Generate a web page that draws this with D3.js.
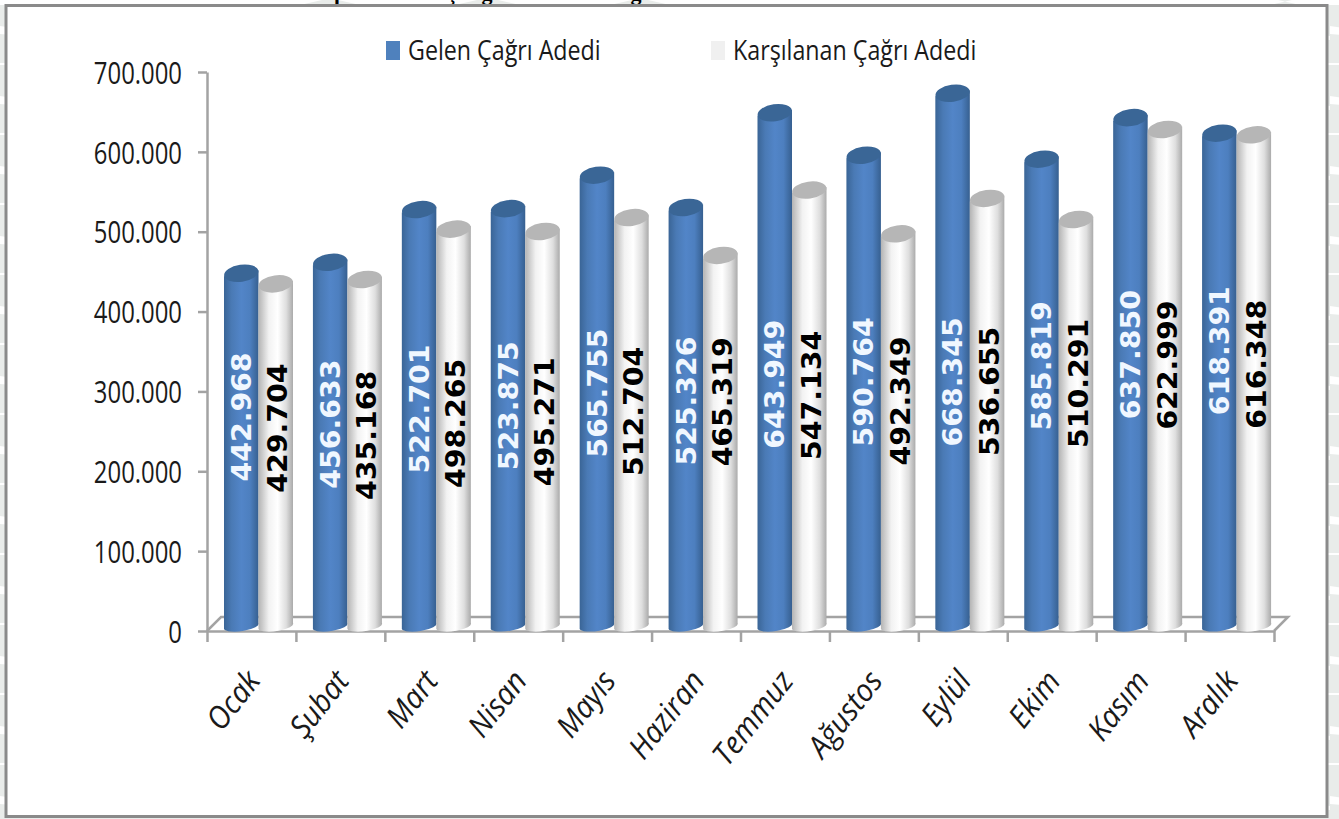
<!DOCTYPE html>
<html>
<head>
<meta charset="utf-8">
<script src="https://cdn.jsdelivr.net/npm/d3@7"></script>
<style>
  html, body { margin: 0; padding: 0; background: #fff; overflow: hidden; }
  text { fill: #1a1a1a; }
  .narrow { font-family: "Open Sans", sans-serif; }
  .axis path, .axis line { stroke: #a3a3a3; stroke-width: 2.5; fill: none; }
</style>
</head>
<body>
<svg id="chart" width="1339" height="819"></svg>
<script>
var months = ["Ocak", "Şubat", "Mart", "Nisan", "Mayıs", "Haziran", "Temmuz", "Ağustos", "Eylül", "Ekim", "Kasım", "Aralık"];
var gelen = [442968, 456633, 522701, 523875, 565755, 525326, 643949, 590764, 668345, 585819, 637850, 618391];
var karsilanan = [429704, 435168, 498265, 495271, 512704, 465319, 547134, 492349, 536655, 510291, 622999, 616348];
// axis value each label is centred on, the labels were moved by hand in the original
var gelenLabelAt = [268000, 259000, 278000, 282000, 298000, 288000, 309000, 312000, 312000, 332000, 346000, 351000];
var karsilananLabelAt = [254000, 245000, 260000, 262000, 275000, 287000, 295000, 288000, 300000, 310000, 333000, 334000];
var yTicks = [0, 100000, 200000, 300000, 400000, 500000, 600000, 700000];
var seriesNames = ["Gelen Çağrı Adedi", "Karşılanan Çağrı Adedi"];
var titleBits = ["p", "ç", "ğ", "g"];

var left = 207, right = 1274, top_ = 72, bottom = 631, depth = 14;

var svg = d3.select("#chart");
var defs = svg.append("defs");

function cylinderGradient(id, stops) {
  var g = defs.append("linearGradient").attr("id", id);
  stops.forEach(function (s) {
    g.append("stop").attr("offset", s[0]).attr("stop-color", s[1]);
  });
}
cylinderGradient("blueBar", [[0, "#3a6596"], [0.22, "#4a7ab5"], [0.5, "#5285c8"], [0.75, "#4d7fbf"], [1, "#365f8f"]]);
cylinderGradient("whiteBar", [[0, "#b4b4b4"], [0.3, "#f2f2f2"], [0.55, "#ffffff"], [0.8, "#dedede"], [1, "#a9a9a9"]]);

// pale watermark of the slide behind the chart
var pattern = defs.append("pattern").attr("id", "mark")
  .attr("width", 70).attr("height", 70).attr("patternUnits", "userSpaceOnUse");
pattern.append("rect").attr("width", 70).attr("height", 70).attr("fill", "#e9ecea");
pattern.append("path").attr("d", "M0,26 L70,36 L70,40 L0,34 Z").attr("fill", "#ffffff");
pattern.append("rect").attr("y", 63).attr("width", 70).attr("height", 2).attr("fill", "#ffffff");

svg.append("rect").attr("width", 1339).attr("height", 819).attr("fill", "url(#mark)");
svg.append("rect").attr("width", 1339).attr("height", 5).attr("fill", "#ffffff");
[[300, 360], [455, 520], [610, 670], [1270, 1300]].forEach(function (d) {
  svg.append("path").attr("d", "M" + d[0] + ",5 L" + (d[0] + 22) + ",0 L" + (d[1] - 22) + ",0 L" + d[1] + ",5 Z").attr("fill", "#e9ecea");
});

// only the descenders of the slide title stick out above the frame
var titleX = d3.scalePoint().domain(titleBits).range([340, 636]);
svg.selectAll(".titleBit").data(titleBits).enter().append("text")
  .attr("class", "titleBit")
  .attr("x", function (d) { return d === "ç" ? 452 : d === "ğ" ? 487 : titleX(d); })
  .attr("y", 0)
  .attr("text-anchor", "middle")
  .style("font", "bold 22px 'Liberation Serif', serif")
  .style("fill", "#000")
  .text(function (d) { return d; });

svg.append("rect").attr("x", 6).attr("y", 5.5).attr("width", 1321).attr("height", 811)
  .attr("fill", "#fff").attr("stroke", "#8a8a8a").attr("stroke-width", 3);

var y = d3.scaleLinear().domain([0, 700000]).range([bottom, top_]);
var xBand = d3.scaleBand().domain(months).range([left, right]);
var xInner = d3.scaleBand().domain([0, 1]).range([0, 69]);
var xEdges = d3.scaleLinear().domain([0, months.length]).range([left, right]);

function dotted(v) {
  return v === 0 ? "0" : d3.format(",")(v).replace(/,/g, ".");
}

// floor of the 3d box
svg.append("path")
  .attr("d", d3.line()([[xEdges(0), y(0)], [xEdges(0) + depth, y(0) - depth], [xEdges(12) + depth, y(0) - depth], [xEdges(12), y(0)]]))
  .attr("fill", "none").attr("stroke", "#a3a3a3").attr("stroke-width", 2.5);

var yAxis = svg.append("g").attr("class", "axis narrow")
  .attr("transform", "translate(" + left + ",0)")
  .call(d3.axisLeft(y).tickValues(yTicks).tickFormat(dotted).tickSize(9).tickSizeOuter(0));
// squeezed like the Calibri of the original
yAxis.selectAll("text")
  .attr("x", 0)
  .attr("dy", "0.36em")
  .attr("transform", "translate(-25,0) scale(0.77,1)")
  .style("font-size", "31px").style("font-family", "inherit");

svg.append("g").attr("class", "axis")
  .attr("transform", "translate(0," + bottom + ")")
  .call(d3.axisBottom(xEdges).tickValues(d3.range(13)).tickFormat("").tickSize(11).tickSizeOuter(0));

function barPath(x0, w, yTop) {
  var rx = w / 2, tilt = 3, base = y(0) - 5;
  return "M" + x0 + "," + (yTop + tilt) +
    " L" + x0 + "," + (base + tilt) +
    " A" + rx + ",5 -8 0 0 " + (x0 + w) + "," + (base - tilt) +
    " L" + (x0 + w) + "," + (yTop - tilt) + " Z";
}

// white bars go after the blue ones of the same month, month by month
months.forEach(function (m, k) {
  [[gelen, "blueBar", "#3a6696"], [karsilanan, "whiteBar", "#b6b6b6"]].forEach(function (s, i) {
    var w = xInner.bandwidth();
    var x0 = xBand(m) + 17 + xInner(i);
    var t = y(s[0][k]) - 4;
    svg.append("path").attr("d", barPath(x0, w, t)).attr("fill", "url(#" + s[1] + ")");
    svg.append("ellipse").attr("rx", w / 2).attr("ry", 8.5)
      .attr("transform", "translate(" + (x0 + w / 2) + "," + t + ") rotate(-8)")
      .attr("fill", s[2]);
  });
});

function drawLabels(values, at, i, color, nudge) {
  svg.selectAll(".lab" + i).data(values).enter().append("text")
    .attr("class", "lab" + i)
    .attr("transform", function (v, k) {
      var cx = xBand(months[k]) + 17 + xInner(i) + xInner.bandwidth() / 2 + nudge;
      return "translate(" + cx + "," + y(at[k]) + ") rotate(-90) scale(1.05,1)";
    })
    .attr("text-anchor", "middle")
    .attr("dy", "0.36em")
    .style("font", "bold 27px 'DejaVu Sans', sans-serif")
    .style("fill", color)
    .text(dotted);
}
drawLabels(gelen, gelenLabelAt, 0, "#f0f7ff", 0);
drawLabels(karsilanan, karsilananLabelAt, 1, "#000", 2);

// month names
svg.selectAll(".month").data(months).enter().append("text")
  .attr("class", "month narrow")
  .attr("transform", function (m) {
    return "translate(" + (xBand(m) + xBand.bandwidth() / 2 - 7) + ",668) rotate(-52) scale(0.94,1)";
  })
  .attr("text-anchor", "end")
  .attr("dy", "0.7em")
  .style("font-size", "31px").style("font-style", "italic")
  .text(function (m) { return m; });

// legend
var legendX = d3.scaleOrdinal().domain(seriesNames).range([386, 711]);
var legendFill = d3.scaleOrdinal().domain(seriesNames).range(["#4f81bd", "#f0f0f0"]);
seriesNames.forEach(function (name) {
  svg.append("rect").attr("x", legendX(name)).attr("y", 41).attr("width", 14).attr("height", 19)
    .attr("fill", legendFill(name));
  svg.append("text").attr("class", "narrow")
    .attr("transform", "translate(" + (legendX(name) + 22) + ",60) scale(0.83,1)")
    .style("font-size", "28px")
    .text(name);
});
</script>
</body>
</html>
